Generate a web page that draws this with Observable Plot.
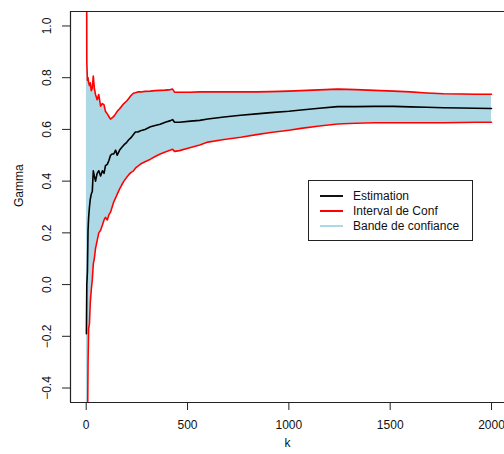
<!DOCTYPE html>
<html>
<head>
<meta charset="utf-8">
<script src="https://cdn.jsdelivr.net/npm/d3@7"></script>
<script src="https://cdn.jsdelivr.net/npm/@observablehq/plot@0.6"></script>
<style>
  html, body { margin: 0; padding: 0; background: #fff; }
  #wrap { position: relative; width: 504px; height: 454px; overflow: hidden; font-family: "Liberation Sans", Arial, sans-serif; }
  #legend { position: absolute; left: 308px; top: 180px; width: 163px; height: 59px; border: 1px solid #222; background: #fff; font-size: 12px; color: #111; }
  .item { position: absolute; left: 0; height: 14px; display: flex; align-items: center; }
  .sw { width: 23px; height: 2px; margin-left: 11px; margin-right: 10px; }
</style>
</head>
<body>
<div id="wrap"></div>
<script>
// Running estimate of gamma over k, with its confidence bounds
const k = [1, 3, 6, 9, 12, 16, 20, 25, 30, 35, 40, 46, 54, 62, 71, 80, 88, 95, 104, 112,
  120, 128, 136, 145, 153, 165, 175, 186, 200, 210, 220, 233, 243, 255, 268, 290, 317, 340,
  365, 390, 416, 426, 436, 460, 515, 560, 600, 680, 762, 840, 910, 1000, 1060, 1150, 1240,
  1330, 1420, 1517, 1600, 1680, 1764, 1850, 1920, 2000];

const estimation = [-0.19, 0.00, 0.05, 0.21, 0.26, 0.30, 0.33, 0.35, 0.36, 0.44, 0.42, 0.40,
  0.43, 0.44, 0.42, 0.44, 0.43, 0.46, 0.465, 0.48, 0.50, 0.505, 0.505, 0.52, 0.50, 0.52, 0.53,
  0.54, 0.55, 0.56, 0.567, 0.58, 0.59, 0.59, 0.595, 0.60, 0.61, 0.615, 0.62, 0.628, 0.634,
  0.638, 0.628, 0.628, 0.632, 0.635, 0.64, 0.648, 0.655, 0.66, 0.665, 0.67, 0.675, 0.682,
  0.688, 0.688, 0.689, 0.689, 0.687, 0.686, 0.684, 0.683, 0.682, 0.681];

const lower = [-1.5, -1.0, -0.6, -0.30, -0.17, -0.15, -0.07, -0.02, 0.02, 0.08, 0.10, 0.14,
  0.17, 0.20, 0.21, 0.23, 0.25, 0.26, 0.25, 0.27, 0.28, 0.30, 0.32, 0.335, 0.35, 0.37, 0.385,
  0.40, 0.415, 0.425, 0.433, 0.44, 0.45, 0.458, 0.466, 0.475, 0.485, 0.495, 0.505, 0.513,
  0.52, 0.523, 0.515, 0.518, 0.53, 0.54, 0.551, 0.561, 0.57, 0.58, 0.588, 0.597, 0.604,
  0.613, 0.621, 0.624, 0.626, 0.626, 0.626, 0.626, 0.626, 0.627, 0.628, 0.628];

const upper = [1.8, 0.86, 0.79, 0.80, 0.78, 0.77, 0.78, 0.75, 0.76, 0.806, 0.76, 0.735, 0.715,
  0.735, 0.69, 0.70, 0.695, 0.67, 0.66, 0.65, 0.64, 0.645, 0.65, 0.66, 0.67, 0.68, 0.69, 0.70,
  0.71, 0.72, 0.73, 0.74, 0.742, 0.745, 0.745, 0.747, 0.748, 0.75, 0.751, 0.752, 0.754, 0.756,
  0.744, 0.744, 0.744, 0.745, 0.745, 0.745, 0.745, 0.745, 0.746, 0.748, 0.75, 0.753, 0.756,
  0.754, 0.751, 0.748, 0.745, 0.741, 0.738, 0.737, 0.736, 0.736];

const xTicks = [0, 500, 1000, 1500, 2000];
const yTicks = [-0.4, -0.2, 0.0, 0.2, 0.4, 0.6, 0.8, 1.0];
const legendLabels = ["Estimation", "Interval de Conf", "Bande de confiance"];
const legendColors = ["#111", "#ff0000", "#add8e6"];

const rows = k.map((v, i) => ({k: v, est: estimation[i], lo: lower[i], up: upper[i]}));

const xDomain = [-77.5, 2064];
const yDomain = [-0.456, 1.056];
const fmt = d => d.toFixed(1).replace("-", "\u2212");

const chart = Plot.plot({
  width: 504,
  height: 454,
  marginLeft: 70,
  marginRight: 0,
  marginTop: 11,
  marginBottom: 52,
  x: {domain: xDomain, axis: null},
  y: {domain: yDomain, axis: null},
  style: {fontFamily: "'Liberation Sans', Arial, sans-serif", fontSize: "12px", background: "#fff", color: "#111"},
  marks: [
    Plot.areaY(rows, {x: "k", y1: "lo", y2: "up", fill: "#add8e6", clip: true}),
    Plot.lineY(rows, {x: "k", y: "up", stroke: "#ff0000", strokeWidth: 1.6, clip: true}),
    Plot.lineY(rows, {x: "k", y: "lo", stroke: "#ff0000", strokeWidth: 1.6, clip: true}),
    Plot.lineY(rows, {x: "k", y: "est", stroke: "#000", strokeWidth: 1.6, clip: true}),
    // plot box (right side runs past the page edge)
    Plot.ruleX([xDomain[0]], {stroke: "#222", strokeWidth: 1.2}),
    Plot.ruleY(yDomain, {stroke: "#222", strokeWidth: 1.2}),
    Plot.axisX({ticks: xTicks, tickSize: 8, tickPadding: 10, tickFormat: d => String(d), label: null, stroke: "#222", fill: "#111"}),
    Plot.axisY({ticks: yTicks, tickSize: 8, tickFormat: () => "", label: null, stroke: "#222"}),
    Plot.text(yTicks, {y: d => d, text: fmt, frameAnchor: "left", dx: -23, rotate: -90, textAnchor: "middle", fill: "#111"}),
    Plot.text(["Gamma"], {text: d => d, frameAnchor: "left", dx: -51, rotate: -90, fill: "#111"}),
    Plot.text(["k"], {text: d => d, frameAnchor: "bottom", dy: 44, fill: "#111"})
  ]
});

const wrap = document.getElementById("wrap");
wrap.appendChild(chart);

// legend box inside the plotting region
const legend = document.createElement("div");
legend.id = "legend";
legendLabels.forEach((label, i) => {
  const item = document.createElement("div");
  item.className = "item";
  item.style.top = (8 + i * 15) + "px";
  const sw = document.createElement("span");
  sw.className = "sw";
  sw.style.background = legendColors[i];
  const tx = document.createElement("span");
  tx.textContent = label;
  item.appendChild(sw);
  item.appendChild(tx);
  legend.appendChild(item);
});
wrap.appendChild(legend);
</script>
</body>
</html>
